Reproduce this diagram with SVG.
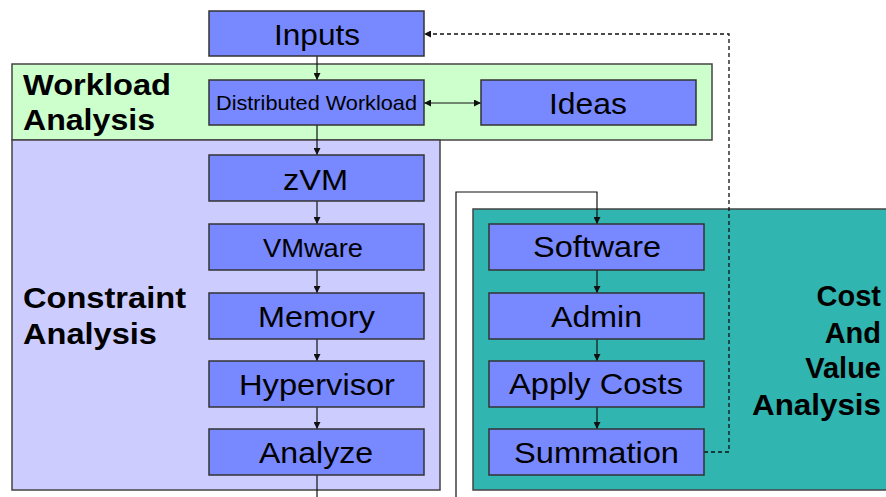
<svg xmlns="http://www.w3.org/2000/svg" width="886" height="497" viewBox="0 0 886 497">
<style>
.panel{stroke:#444;stroke-width:1.5}
.box{fill:#7888FF;stroke:#333;stroke-width:1.5}
.t{font-family:"Liberation Sans",Arial,sans-serif;fill:#000;text-anchor:middle}
.lb{font-family:"Liberation Sans",Arial,sans-serif;font-weight:bold;fill:#000}
.c{fill:none;stroke:#111;stroke-width:1.2}
.d{fill:none;stroke:#111;stroke-width:1.3;stroke-dasharray:4,3}
</style>
<defs>
<marker id="ah" viewBox="0 0 10 10" refX="10" refY="5" markerWidth="7" markerHeight="7" markerUnits="userSpaceOnUse" orient="auto-start-reverse">
<path d="M0,0 L10,5 L0,10 z" fill="#111"/>
</marker>
</defs>
<g id="panel-workload">
<rect class="panel" x="12" y="64" width="700" height="76" fill="#CCFFCC"/>
<text class="lb" font-size="29" x="23" y="95" textLength="148" lengthAdjust="spacingAndGlyphs">Workload</text>
<text class="lb" font-size="29" x="23" y="130" textLength="132" lengthAdjust="spacingAndGlyphs">Analysis</text>
</g>
<g id="panel-constraint">
<rect class="panel" x="12" y="140" width="428" height="350" fill="#CCCCFF"/>
<text class="lb" font-size="29" x="23" y="308" textLength="163" lengthAdjust="spacingAndGlyphs">Constraint</text>
<text class="lb" font-size="29" x="23" y="344" textLength="134" lengthAdjust="spacingAndGlyphs">Analysis</text>
</g>
<g id="panel-cost">
<rect class="panel" x="473" y="209" width="420" height="281" fill="#30B5B0"/>
<text class="lb" font-size="29" x="881" y="306" text-anchor="end">Cost</text>
<text class="lb" font-size="29" x="881" y="343" text-anchor="end">And</text>
<text class="lb" font-size="29" x="881" y="378" text-anchor="end">Value</text>
<text class="lb" font-size="29" x="881" y="415" text-anchor="end" textLength="129" lengthAdjust="spacingAndGlyphs">Analysis</text>
</g>
<g id="connectors">
<line class="c" x1="317" y1="56" x2="317" y2="80" marker-end="url(#ah)"/>
<line class="c" x1="424" y1="103" x2="481" y2="103" marker-start="url(#ah)" marker-end="url(#ah)"/>
<line class="c" x1="317" y1="125" x2="317" y2="155" marker-end="url(#ah)"/>
<line class="c" x1="317" y1="201" x2="317" y2="224" marker-end="url(#ah)"/>
<line class="c" x1="317" y1="270" x2="317" y2="293" marker-end="url(#ah)"/>
<line class="c" x1="317" y1="339" x2="317" y2="361" marker-end="url(#ah)"/>
<line class="c" x1="317" y1="407" x2="317" y2="429" marker-end="url(#ah)"/>
<line class="c" x1="317" y1="475" x2="317" y2="497"/>
<path class="c" d="M456,497 L456,192 L597,192 L597,224" marker-end="url(#ah)"/>
<line class="c" x1="597" y1="270" x2="597" y2="293" marker-end="url(#ah)"/>
<line class="c" x1="597" y1="339" x2="597" y2="361" marker-end="url(#ah)"/>
<line class="c" x1="597" y1="407" x2="597" y2="429" marker-end="url(#ah)"/>
<path class="d" d="M704,452 L729,452 L729,34 L424,34" marker-end="url(#ah)"/>
</g>
<g id="inputs"><rect class="box" x="209" y="11" width="215" height="45"/><text class="t" font-size="29" x="317" y="45" textLength="86" lengthAdjust="spacingAndGlyphs">Inputs</text></g>
<g id="distributed"><rect class="box" x="209" y="80" width="215" height="45"/><text class="t" font-size="21" x="316.5" y="110" textLength="201" lengthAdjust="spacingAndGlyphs">Distributed Workload</text></g>
<g id="ideas"><rect class="box" x="481" y="80" width="215" height="45"/><text class="t" font-size="30" x="588" y="114" textLength="78" lengthAdjust="spacingAndGlyphs">Ideas</text></g>
<g id="zvm"><rect class="box" x="209" y="155" width="215" height="46"/><text class="t" font-size="30" x="315.5" y="190" textLength="65" lengthAdjust="spacingAndGlyphs">zVM</text></g>
<g id="vmware"><rect class="box" x="209" y="224" width="215" height="46"/><text class="t" font-size="25" x="313" y="257" textLength="100" lengthAdjust="spacingAndGlyphs">VMware</text></g>
<g id="memory"><rect class="box" x="209" y="293" width="215" height="46"/><text class="t" font-size="30" x="316.5" y="327" textLength="117" lengthAdjust="spacingAndGlyphs">Memory</text></g>
<g id="hypervisor"><rect class="box" x="209" y="361" width="215" height="46"/><text class="t" font-size="30" x="317" y="395" textLength="156" lengthAdjust="spacingAndGlyphs">Hypervisor</text></g>
<g id="analyze"><rect class="box" x="209" y="429" width="215" height="46"/><text class="t" font-size="30" x="316" y="463" textLength="114" lengthAdjust="spacingAndGlyphs">Analyze</text></g>
<g id="software"><rect class="box" x="489" y="224" width="215" height="46"/><text class="t" font-size="30" x="597" y="257" textLength="128" lengthAdjust="spacingAndGlyphs">Software</text></g>
<g id="admin"><rect class="box" x="489" y="293" width="215" height="46"/><text class="t" font-size="30" x="596.5" y="327" textLength="91" lengthAdjust="spacingAndGlyphs">Admin</text></g>
<g id="apply-costs"><rect class="box" x="489" y="361" width="215" height="46"/><text class="t" font-size="30" x="596" y="394" textLength="174" lengthAdjust="spacingAndGlyphs">Apply Costs</text></g>
<g id="summation"><rect class="box" x="489" y="429" width="215" height="46"/><text class="t" font-size="30" x="596.5" y="463" textLength="165" lengthAdjust="spacingAndGlyphs">Summation</text></g>
</svg>
